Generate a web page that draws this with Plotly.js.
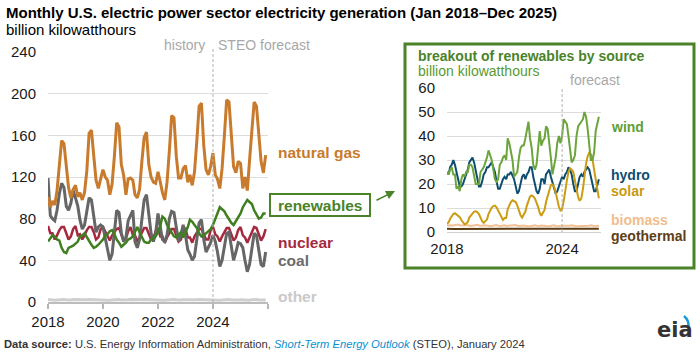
<!DOCTYPE html>
<html><head><meta charset="utf-8">
<script src="https://cdn.plot.ly/plotly-3.0.1.min.js"></script>
<style>html,body{margin:0;padding:0;background:#fff;} #chart{width:700px;height:353px;}</style>
</head><body><div id="chart"></div>
<script>
// ---- data (billion kilowatthours, monthly Jan 2018 - Dec 2025) ----
const years = [2018, 2019, 2020, 2021, 2022, 2023, 2024, 2025];
const forecastStart = '2024-01-01';

const naturalGas = [
  101, 91, 97, 93, 107, 128, 155, 152, 127, 110, 100, 108,
  112, 101, 105, 98, 105, 126, 162, 165, 140, 117, 109, 117,
  127, 120, 117, 103, 113, 140, 172, 168, 132, 122, 103, 118,
  119, 117, 103, 100, 108, 135, 158, 163, 132, 120, 115, 114,
  125, 115, 105, 98, 115, 145, 179, 177, 140, 119, 119, 128,
  131, 115, 122, 112, 125, 155, 188, 191, 150, 127, 122, 130,
  143, 122, 118, 109, 128, 160, 194, 192, 155, 130, 124, 135,
  133, 109, 120, 107, 136, 165, 192, 188, 160, 135, 124, 141
];
const coal = [
  119, 83, 80, 78, 88, 104, 114, 110, 92, 88, 95, 107,
  100, 92, 79, 70, 74, 88, 100, 98, 84, 67, 72, 74,
  72, 60, 50, 40, 46, 68, 88, 86, 66, 58, 62, 78,
  84, 88, 58, 52, 60, 80, 98, 103, 84, 66, 58, 66,
  85, 72, 60, 58, 64, 80, 87, 86, 70, 58, 64, 74,
  64, 50, 46, 40, 44, 60, 76, 79, 60, 48, 52, 57,
  64, 58, 48, 34, 40, 55, 66, 67, 52, 40, 48, 57,
  56, 52, 40, 29, 36, 54, 66, 64, 48, 36, 34, 48
];
const nuclear = [
  73, 66, 66, 60, 64, 69, 72, 72, 66, 60, 63, 70,
  73, 64, 65, 60, 64, 69, 72, 72, 67, 60, 62, 70,
  72, 67, 64, 59, 64, 67, 70, 71, 64, 59, 61, 68,
  72, 64, 64, 58, 62, 67, 71, 71, 66, 60, 61, 68,
  71, 63, 63, 57, 62, 66, 70, 70, 64, 58, 60, 68,
  70, 62, 62, 57, 63, 66, 70, 70, 64, 60, 60, 69,
  72, 65, 63, 58, 63, 67, 71, 71, 64, 59, 62, 69,
  72, 64, 62, 57, 62, 68, 72, 71, 64, 59, 63, 70
];
const renewables = [
  58, 61, 64, 63, 60, 59, 52, 48, 47, 52, 53, 54,
  56, 58, 63, 64, 66, 62, 58, 55, 52, 53, 55, 57,
  60, 64, 65, 68, 69, 65, 60, 57, 53, 55, 57, 60,
  61, 63, 68, 72, 67, 63, 58, 57, 57, 60, 62, 63,
  67, 73, 82, 80, 74, 70, 66, 63, 62, 65, 67, 62,
  67, 72, 79, 77, 74, 71, 66, 63, 64, 66, 68, 70,
  74, 80, 87, 91, 89, 87, 83, 79, 76, 74, 78, 82,
  85, 91, 95, 98, 96, 94, 88, 84, 80, 81, 85, 85
];
const other = [
  2.4, 2.0, 1.9, 1.8, 2.0, 2.3, 2.6, 2.5, 2.2, 1.9, 2.0, 2.3,
  2.3, 2.0, 1.9, 1.7, 1.9, 2.2, 2.5, 2.5, 2.1, 1.9, 2.0, 2.2,
  2.2, 1.9, 1.8, 1.6, 1.8, 2.1, 2.4, 2.4, 2.0, 1.8, 1.9, 2.1,
  2.3, 2.2, 1.8, 1.7, 1.9, 2.2, 2.5, 2.5, 2.1, 1.9, 1.9, 2.1,
  2.2, 1.9, 1.8, 1.7, 1.9, 2.2, 2.5, 2.4, 2.1, 1.8, 1.9, 2.1,
  2.1, 1.8, 1.8, 1.6, 1.8, 2.1, 2.4, 2.4, 2.0, 1.8, 1.9, 2.0,
  2.1, 1.9, 1.8, 1.6, 1.8, 2.1, 2.4, 2.4, 2.0, 1.8, 1.9, 2.0,
  2.1, 1.9, 1.8, 1.6, 1.8, 2.1, 2.4, 2.4, 2.0, 1.8, 1.9, 2.0
];

// inset: renewables by source
const wind = [
  25, 24, 26, 27, 24, 24, 18, 19, 17, 22, 24, 23,
  25, 25, 28, 28, 27, 23, 20, 20, 20, 25, 26, 27,
  29, 31, 34, 32, 30, 26, 22, 21, 22, 28, 29, 31,
  32, 30, 39, 37, 33, 30, 23, 24, 25, 31, 35, 36,
  36, 39, 43, 46, 39, 35, 28, 26, 28, 35, 42, 36,
  38, 39, 44, 43, 38, 31, 24, 28, 31, 37, 40, 37,
  40, 47, 46, 45, 40, 35, 29, 30, 32, 40, 44, 45,
  46, 47, 50, 48, 43, 37, 30, 30, 33, 42, 46, 48
];
const hydro = [
  25, 24, 27, 28, 30, 28, 25, 22, 19, 19, 20, 22,
  24, 26, 29, 30, 31, 29, 26, 22, 19, 19, 21, 24,
  25, 27, 27, 28, 29, 27, 25, 21, 18, 18, 20, 22,
  23, 22, 24, 24, 25, 23, 22, 19, 16, 17, 20, 23,
  24, 22, 24, 25, 27, 27, 23, 20, 17, 16, 18, 22,
  22, 20, 24, 25, 26, 23, 21, 19, 16, 17, 19, 21,
  23, 22, 24, 25, 27, 26, 24, 20, 17, 17, 20, 23,
  24, 23, 25, 26, 27, 26, 23, 19, 17, 17, 20, 22
];
const solar = [
  3.5, 4.0, 5.5, 6.5, 7.5, 7.8, 7.3, 7.0, 6.2, 5.0, 3.8, 3.2,
  3.5, 4.2, 6.0, 7.0, 7.6, 8.5, 8.6, 8.3, 7.5, 6.0, 4.5, 3.8,
  4.5, 5.2, 7.5, 8.8, 10.2, 10.8, 11.0, 10.3, 9.0, 7.5, 5.8, 5.0,
  5.8, 5.8, 9.5, 11.2, 12.5, 13.2, 12.8, 12.5, 11.0, 9.0, 7.0, 6.0,
  7.0, 8.5, 11.0, 13.0, 14.8, 15.2, 14.8, 14.0, 12.5, 10.5, 8.0, 6.8,
  8.0, 9.2, 12.5, 15.0, 18.0, 19.5, 19.8, 19.0, 16.5, 13.5, 10.5, 9.0,
  9.5, 13.0, 18.0, 21.5, 25.0, 26.5, 26.0, 25.0, 21.5, 18.0, 14.5, 13.0,
  14.0, 18.0, 24.0, 28.5, 31.5, 33.0, 32.5, 30.5, 26.0, 22.0, 17.0, 14.0
];
const biomass = [
  3.0, 2.7, 2.8, 2.6, 2.7, 2.9, 3.1, 3.1, 2.8, 2.6, 2.7, 2.9,
  2.9, 2.6, 2.7, 2.5, 2.6, 2.8, 3.0, 3.0, 2.7, 2.5, 2.6, 2.8,
  2.8, 2.6, 2.6, 2.4, 2.5, 2.7, 2.9, 2.9, 2.6, 2.5, 2.5, 2.7,
  2.8, 2.5, 2.6, 2.4, 2.5, 2.7, 2.9, 2.9, 2.6, 2.4, 2.5, 2.7,
  2.7, 2.5, 2.5, 2.3, 2.5, 2.7, 2.8, 2.8, 2.6, 2.4, 2.5, 2.7,
  2.7, 2.4, 2.5, 2.3, 2.4, 2.6, 2.8, 2.8, 2.5, 2.3, 2.4, 2.6,
  2.6, 2.4, 2.5, 2.3, 2.4, 2.6, 2.8, 2.8, 2.5, 2.4, 2.4, 2.6,
  2.6, 2.4, 2.5, 2.3, 2.4, 2.6, 2.8, 2.8, 2.5, 2.4, 2.4, 2.6
];
const geothermal = [
  1.4, 1.3, 1.4, 1.3, 1.3, 1.3, 1.3, 1.3, 1.3, 1.3, 1.3, 1.4,
  1.4, 1.3, 1.4, 1.3, 1.3, 1.2, 1.3, 1.3, 1.3, 1.3, 1.3, 1.4,
  1.4, 1.3, 1.4, 1.3, 1.3, 1.3, 1.3, 1.3, 1.2, 1.3, 1.3, 1.4,
  1.4, 1.2, 1.4, 1.3, 1.3, 1.2, 1.3, 1.3, 1.2, 1.2, 1.3, 1.4,
  1.4, 1.2, 1.4, 1.3, 1.3, 1.2, 1.2, 1.2, 1.2, 1.2, 1.3, 1.3,
  1.3, 1.2, 1.3, 1.2, 1.2, 1.2, 1.3, 1.3, 1.2, 1.2, 1.3, 1.3,
  1.3, 1.2, 1.3, 1.3, 1.3, 1.3, 1.3, 1.3, 1.3, 1.3, 1.3, 1.4,
  1.4, 1.3, 1.4, 1.3, 1.3, 1.3, 1.3, 1.3, 1.3, 1.3, 1.3, 1.4
];

const mainYTicks = [0, 40, 80, 120, 160, 200, 240];
const mainXTickYears = ['2018', '2020', '2022', '2024', '2026'];
const mainXTickText = ['2018', '2020', '2022', '2024', ''];
const insetYTicks = [0, 10, 20, 30, 40, 50, 60];
const insetXTickYears = ['2018', '2024'];

// ---- build ----
const months = [];
years.forEach(y => { for (let m = 1; m <= 12; m++) months.push(y + '-' + String(m).padStart(2, '0') + '-01'); });

const W = 700, H = 353;
const px = x => x / W;
const py = y => 1 - y / H;
const FONT = 'Liberation Sans, Arial, Helvetica, sans-serif';

function line(y, color, width, xa, ya) {
  return {x: months, y: y, type: 'scatter', mode: 'lines', xaxis: xa, yaxis: ya,
    line: {color: color, width: width, shape: 'linear'}, hoverinfo: 'skip', showlegend: false};
}

const C = {
  gas: '#c87b2c', coal: '#666666', nuc: '#a52a3f', ren: '#3f7f1f', other: '#cfcfcf',
  wind: '#6ca53c', hydro: '#0d4e6e', solar: '#cc9c12', bio: '#f3c093', geo: '#5e3d14',
  green: '#4a832a'
};

const data = [
  line(other, C.other, 3, 'x', 'y'),
  line(nuclear, C.nuc, 2.5, 'x', 'y'),
  line(coal, C.coal, 3, 'x', 'y'),
  line(renewables, C.ren, 2.5, 'x', 'y'),
  line(naturalGas, C.gas, 3, 'x', 'y'),
  line(geothermal, C.geo, 2, 'x2', 'y2'),
  line(biomass, C.bio, 2, 'x2', 'y2'),
  line(hydro, C.hydro, 2, 'x2', 'y2'),
  line(solar, C.solar, 2, 'x2', 'y2'),
  line(wind, C.wind, 2, 'x2', 'y2')
];

function ann(text, x, y, opts) {
  return Object.assign({text: text, x: px(x), y: py(y), xref: 'paper', yref: 'paper',
    showarrow: false, xanchor: 'left', yanchor: 'middle',
    font: {family: FONT, size: 15, color: '#000'}}, opts || {});
}

const annotations = [
  ann('<b>Monthly U.S. electric power sector electricity generation (Jan 2018–Dec 2025)</b>', 4, 12, {font: {family: FONT, size: 15, color: '#000'}}),
  ann('billion kilowatthours', 4, 30, {font: {family: FONT, size: 15, color: '#000'}}),
  ann('history', 207, 45, {xanchor: 'right', font: {family: FONT, size: 14, color: '#a8a8a8'}}),
  ann('STEO forecast', 216, 45, {font: {family: FONT, size: 14, color: '#a8a8a8'}}),
  ann('<b>natural gas</b>', 276, 152, {font: {family: FONT, size: 15.5, color: C.gas}}),
  ann('<b>renewables</b>', 320, 205, {xanchor: 'center', font: {family: FONT, size: 15.5, color: C.green}}),
  ann('<b>nuclear</b>', 276, 242, {font: {family: FONT, size: 15.5, color: C.nuc}}),
  ann('<b>coal</b>', 276, 260, {font: {family: FONT, size: 15.5, color: '#6b6b6b'}}),
  ann('<b>other</b>', 276, 296, {font: {family: FONT, size: 15.5, color: '#c9c9c9'}}),
  // inset texts
  ann('<b>breakout of renewables by source</b>', 416, 56, {font: {family: FONT, size: 14, color: C.green}}),
  ann('billion kilowatthours', 416, 71, {font: {family: FONT, size: 14, color: '#5a9a32'}}),
  ann('forecast', 568, 80, {font: {family: FONT, size: 14, color: '#a8a8a8'}}),
  ann('<b>wind</b>', 609, 127, {font: {family: FONT, size: 14, color: '#5f9e33'}}),
  ann('<b>hydro</b>', 609, 175, {font: {family: FONT, size: 14, color: C.hydro}}),
  ann('<b>solar</b>', 609, 191, {font: {family: FONT, size: 14, color: '#c99a10'}}),
  ann('<b>biomass</b>', 609, 220, {font: {family: FONT, size: 14, color: '#f1bd8e'}}),
  ann('<b>geothermal</b>', 609, 236, {font: {family: FONT, size: 14, color: C.geo}}),
  // footer
  ann('<b>Data source:</b> U.S. Energy Information Administration, <i><span style="color:#0a8fd0">Short-Term Energy Outlook</span></i> (STEO), January 2024', 2, 344, {font: {family: FONT, size: 11.2, color: '#333'}}),
  // logo
  ann('<b>eia</b>', 675, 330, {xanchor: 'center', font: {family: 'DejaVu Sans, ' + FONT, size: 21, color: '#333'}}),
  // arrow
  {x: px(395), y: py(191), ax: -20, ay: 10, xref: 'paper', yref: 'paper', axref: 'pixel', ayref: 'pixel',
   showarrow: true, arrowhead: 2, arrowsize: 1.2, arrowwidth: 1.5, arrowcolor: C.green, text: '', standoff: 0}
];

const shapes = [
  // main forecast divider
  {type: 'line', xref: 'x', yref: 'paper', x0: forecastStart, x1: forecastStart, y0: py(302), y1: py(49),
   line: {color: '#b0b0b0', width: 1, dash: '3px,2px'}},
  // renewables label box
  {type: 'rect', xref: 'paper', yref: 'paper', x0: px(270), x1: px(370), y0: py(216), y1: py(194),
   line: {color: C.green, width: 2}, fillcolor: 'rgba(0,0,0,0)'},
  // inset frame
  {type: 'rect', xref: 'paper', yref: 'paper', x0: px(405), x1: px(694), y0: py(268), y1: py(44),
   line: {color: C.green, width: 3}, fillcolor: 'rgba(0,0,0,0)', layer: 'below'},
  // inset forecast divider
  {type: 'line', xref: 'x2', yref: 'y2', x0: forecastStart, x1: forecastStart, y0: 0, y1: 60,
   line: {color: '#b0b0b0', width: 1, dash: '3px,2px'}},
  // logo arc
  {type: 'path', xref: 'paper', yref: 'paper',
   path: 'M ' + px(684) + ',' + py(316) + ' Q ' + px(690) + ',' + py(321) + ' ' + px(688) + ',' + py(328),
   line: {color: '#1a9ad6', width: 2.5}}
];

const axisCommon = {fixedrange: true, zeroline: false, tickfont: {family: FONT, size: 15, color: '#1a1a1a'}};

const layout = {
  width: W, height: H, margin: {l: 0, r: 0, t: 0, b: 0, pad: 0},
  paper_bgcolor: '#fff', plot_bgcolor: 'rgba(0,0,0,0)', showlegend: false,
  font: {family: FONT},
  xaxis: Object.assign({}, axisCommon, {
    domain: [px(48), px(268)], type: 'date', range: ['2018-01-01', '2026-01-01'],
    tickmode: 'array', tickvals: mainXTickYears.map(y => y + '-01-01'), ticktext: mainXTickText,
    ticks: 'outside', ticklen: 5, tickwidth: 1.5, tickcolor: '#b5b5b5',
    showgrid: false, showline: true, linecolor: '#bdbdbd', linewidth: 2, anchor: 'y'
  }),
  yaxis: Object.assign({}, axisCommon, {
    domain: [py(302), py(52)], range: [0, 240], tickmode: 'array', tickvals: mainYTicks,
    showgrid: true, gridcolor: '#dcdcdc', gridwidth: 1, ticks: '', ticklabelstandoff: 11,
    showline: false, anchor: 'x'
  }),
  xaxis2: Object.assign({}, axisCommon, {
    domain: [px(447), px(600.5)], type: 'date', range: ['2018-01-01', '2026-01-01'],
    tickmode: 'array', tickvals: insetXTickYears.map(y => y + '-01-01'), ticktext: insetXTickYears,
    ticks: '', showgrid: false, showline: true, linecolor: '#d0d0d0', linewidth: 1, anchor: 'y2', ticklabelstandoff: 3
  }),
  yaxis2: Object.assign({}, axisCommon, {
    domain: [py(232), py(88)], range: [0, 60], tickmode: 'array', tickvals: insetYTicks,
    showgrid: true, gridcolor: '#dcdcdc', gridwidth: 1, ticks: '', ticklabelstandoff: 11,
    showline: false, anchor: 'x2'
  }),
  annotations: annotations,
  shapes: shapes
};

Plotly.newPlot('chart', data, layout, {staticPlot: true, displayModeBar: false});
</script>
</body></html>
